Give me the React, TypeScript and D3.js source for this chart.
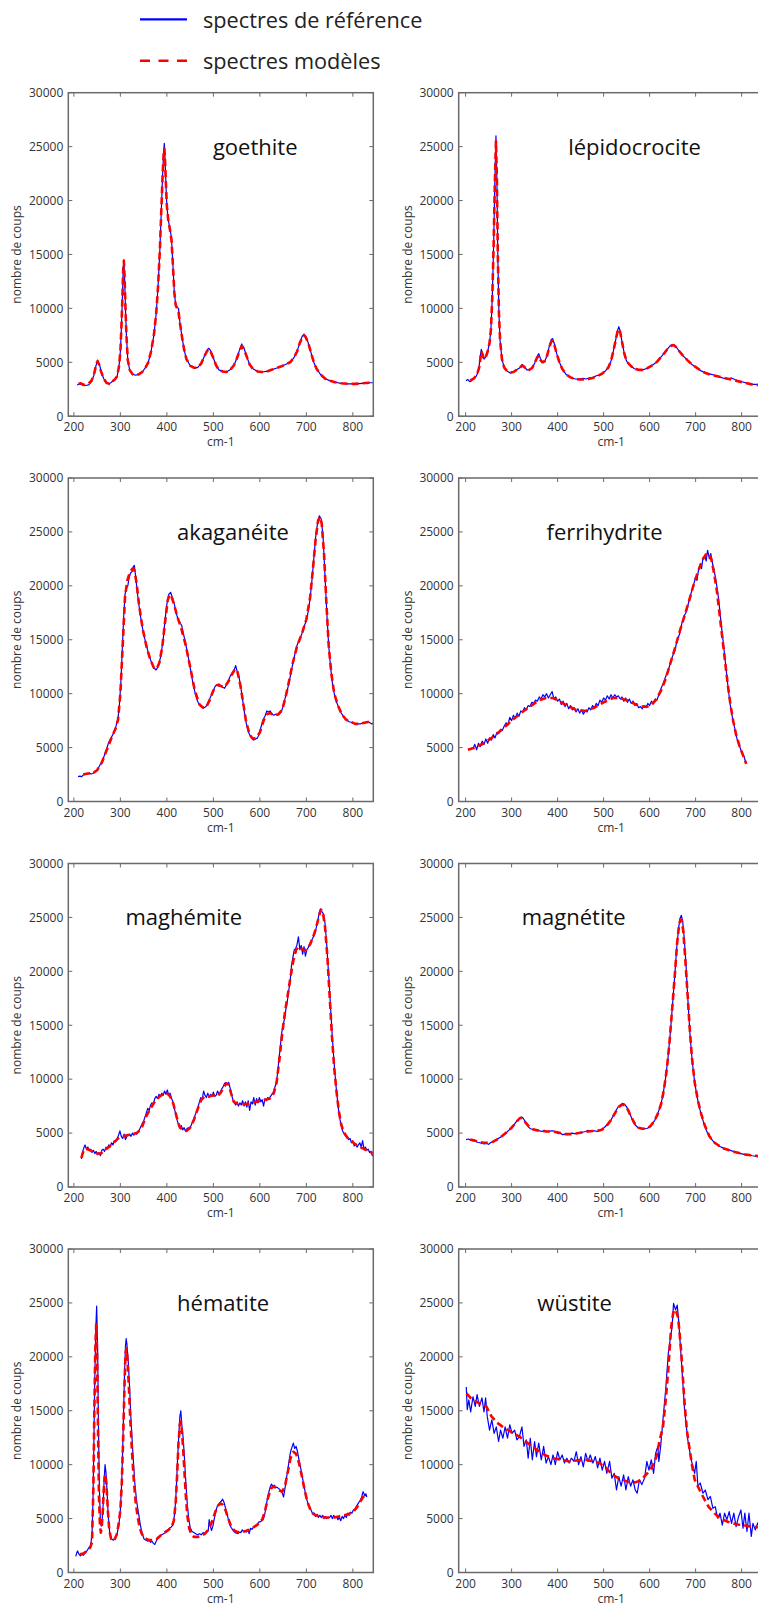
import React from 'react';
import * as d3 from 'd3';

type Pt = [number, number];

const panelNames = ['goethite', 'lépidocrocite', 'akaganéite', 'ferrihydrite', 'maghémite', 'magnétite', 'hématite', 'wüstite'];
const titleXs = [499, 423, 422, 376, 311, 322, 422, 356];
const xTicks = [200, 300, 400, 500, 600, 700, 800];
const yTicks = [0, 5000, 10000, 15000, 20000, 25000, 30000];
const legendLabels = ['spectres de référence', 'spectres modèles'];
const xLabel = 'cm-1';
const yLabel = 'nombre de coups';

const goethiteRef: Pt[] = [[207,2900],[212,3000],[218,2900],[225,2850],[232,2900],[238,3200],[243,3800],[247,4600],[251,5200],[255,4800],[259,4100],[264,3500],[270,3100],[276,3000],[282,3200],[288,3400],[293,3700],[297,4600],[300,6000],[302,8000],[304,10500],[306,13500],[307.5,14500],[309,13000],[311,10000],[313,7500],[316,5200],[320,4300],[326,3900],[333,3800],[340,3900],[347,4100],[354,4500],[360,5000],[366,6000],[372,7500],[377,9500],[381,12000],[385,15500],[388,19000],[391,22500],[393,24500],[394.5,25300],[396,24000],[398,21500],[400,19500],[403,18200],[407,17300],[410,16500],[413,14000],[416,11500],[419,10300],[422,10100],[425,10000],[428,8700],[432,7500],[437,6200],[442,5300],[450,4700],[458,4500],[466,4500],[474,4900],[480,5500],[486,6100],[490,6300],[494,6100],[500,5400],[506,4700],[512,4300],[520,4150],[528,4100],[536,4300],[544,4700],[550,5300],[556,6100],[561,6700],[566,6300],[572,5500],[578,4800],[585,4400],[595,4150],[605,4100],[615,4150],[625,4300],[635,4450],[645,4600],[655,4800],[665,5000],[673,5400],[680,6000],[686,6800],[691,7400],[695,7600],[699,7400],[704,6800],[710,5900],[716,5000],[722,4400],[730,3900],[740,3500],[750,3300],[762,3150],[775,3050],[790,3000],[805,3000],[820,3050],[835,3100],[845,3100]];
const goethiteModel: Pt[] = [[210,3000],[215,3050],[222,2900],[230,2950],[238,3300],[244,4000],[248,4800],[251,5100],[254,4800],[258,4200],[264,3500],[270,3100],[276,3000],[282,3200],[288,3400],[293,3700],[297,4600],[300,6000],[302,8000],[304,10500],[306,13500],[307.5,14400],[309,13000],[311,10000],[313,7500],[316,5200],[320,4300],[326,3900],[333,3800],[340,3900],[347,4100],[354,4500],[360,5000],[366,6000],[372,7500],[377,9500],[381,12000],[385,15500],[388,19000],[391,22500],[393,24200],[394.5,24800],[396,23800],[398,21500],[400,19500],[403,18200],[407,17200],[410,16300],[413,14000],[416,11500],[419,10300],[422,10000],[425,9700],[428,8700],[432,7500],[437,6200],[442,5300],[450,4700],[458,4500],[466,4500],[474,4900],[480,5500],[486,6000],[490,6200],[494,6000],[500,5400],[506,4700],[512,4300],[520,4150],[528,4100],[536,4300],[544,4700],[550,5300],[556,6000],[561,6500],[566,6200],[572,5500],[578,4800],[585,4400],[595,4150],[605,4100],[615,4150],[625,4300],[635,4450],[645,4600],[655,4800],[665,5000],[673,5400],[680,6000],[686,6800],[691,7300],[695,7500],[699,7300],[704,6800],[710,5900],[716,5000],[722,4400],[730,3900],[740,3500],[750,3300],[762,3150],[775,3050],[790,3000],[805,3000],[820,3050],[835,3100],[845,3100]];

const lepidoRef: Pt[] = [[201,3300],[205,3400],[209,3200],[213,3300],[218,3500],[223,3700],[228,4200],[231,5200],[234,6200],[237,5800],[240,5300],[244,5500],[248,6000],[252,6800],[255,8000],[258,11000],[261,16000],[263.5,21500],[266,26000],[268,22000],[270,15000],[272.5,9500],[275,7000],[279,5300],[284,4500],[290,4200],[297,4000],[304,4100],[311,4300],[318,4500],[323,4800],[328,4600],[333,4300],[339,4300],[345,4500],[350,4900],[355,5500],[359,5800],[363,5300],[367,5000],[372,5100],[377,5600],[382,6500],[386,7100],[389,7200],[393,6700],[398,5800],[404,5000],[410,4400],[418,3900],[428,3600],[438,3450],[448,3450],[455,3500],[462,3450],[470,3550],[478,3600],[484,3750],[490,3800],[497,4000],[504,4200],[510,4500],[516,5100],[521,6000],[526,7000],[530,7900],[533,8300],[536,7900],[540,6900],[545,5800],[550,5100],[558,4700],[567,4400],[576,4300],[585,4300],[595,4450],[605,4700],[615,5000],[625,5500],[633,5900],[640,6300],[646,6600],[652,6650],[658,6400],[665,6000],[673,5600],[682,5200],[692,4800],[702,4500],[712,4200],[722,4000],[732,3900],[742,3800],[752,3650],[762,3500],[770,3450],[778,3550],[785,3400],[795,3250],[805,3150],[815,3000],[825,2950],[835,2950],[848,2900]];
const lepidoModel: Pt[] = [[210,3300],[218,3500],[225,3900],[230,4600],[234,6000],[237,5700],[240,5300],[244,5500],[248,6000],[252,6800],[255,8000],[258,11000],[261,16000],[263.5,21500],[266,25500],[268,22000],[270,15000],[272.5,9500],[275,7000],[279,5300],[284,4500],[290,4200],[297,4050],[304,4100],[311,4300],[318,4500],[323,4700],[328,4550],[333,4300],[339,4300],[345,4500],[350,4900],[355,5400],[359,5600],[363,5200],[367,5000],[372,5100],[377,5600],[382,6400],[386,6900],[389,7000],[393,6600],[398,5800],[404,5000],[410,4400],[418,3900],[428,3600],[438,3450],[448,3400],[460,3400],[472,3500],[484,3650],[497,3950],[504,4200],[510,4500],[516,5100],[521,6000],[526,7000],[530,7800],[533,8100],[536,7800],[540,6900],[545,5800],[550,5100],[558,4700],[567,4400],[576,4300],[585,4300],[595,4450],[605,4700],[615,5000],[625,5500],[633,5900],[640,6300],[646,6500],[652,6600],[658,6400],[665,6000],[673,5600],[682,5200],[692,4800],[702,4500],[712,4200],[722,4000],[732,3850],[742,3750],[752,3650],[762,3550],[772,3450],[782,3350],[792,3250],[802,3150],[812,3050],[822,2950],[832,2900],[848,2850]];

const akaganeiteRef: Pt[] = [[209,2300],[213,2350],[217,2300],[221,2500],[225,2600],[229,2550],[233,2650],[237,2550],[241,2600],[246,2800],[250,2900],[255,3300],[260,3700],[265,4200],[270,4800],[275,5500],[280,5900],[285,6300],[290,6900],[295,7700],[298,9000],[301,11000],[304,14000],[307,17000],[310,19200],[313,19800],[316,20000],[319,20800],[322,21200],[325,21300],[328,21800],[330,21900],[333,20800],[337,19200],[342,17500],[348,16000],[354,14800],[360,13800],[366,13000],[372,12400],[377,12200],[382,12600],[387,13500],[392,15000],[396,16800],[400,18300],[404,19200],[408,19400],[412,18900],[416,18300],[420,17500],[424,16900],[428,16600],[432,16300],[436,15500],[441,14500],[446,13400],[451,12200],[456,11000],[461,10000],[466,9300],[471,8900],[476,8800],[481,8700],[486,8900],[491,9400],[496,9900],[500,10300],[504,10700],[508,10800],[512,10900],[516,10700],[520,10600],[524,10500],[528,10800],[532,11200],[536,11600],[540,11900],[544,12100],[548,12600],[551,12100],[555,11600],[559,10600],[563,9400],[567,8200],[571,7200],[575,6500],[579,6100],[583,5900],[587,5700],[591,5800],[595,5900],[599,6300],[603,7000],[607,7600],[611,7900],[615,8400],[619,8300],[622,8400],[626,8100],[630,8000],[634,8100],[638,8000],[642,8100],[646,8300],[650,8800],[655,9700],[660,10500],[665,11500],[670,12600],[675,13600],[680,14500],[685,15000],[690,15500],[695,16200],[700,16800],[704,17600],[708,18800],[712,20500],[716,22500],[720,24500],[724,25800],[728,26500],[732,26200],[736,24500],[740,21000],[744,17500],[748,14500],[752,12500],[756,11000],[760,10000],[765,9200],[770,8700],[775,8200],[780,7900],[786,7600],[792,7400],[800,7300],[808,7200],[816,7200],[824,7300],[830,7400],[835,7350],[840,7200],[845,7250]];
const akaganeiteModel: Pt[] = [[220,2500],[230,2600],[240,2600],[250,2900],[260,3600],[270,4700],[280,5800],[290,6800],[295,7600],[300,10000],[305,14500],[310,19000],[315,20500],[320,21200],[326,21600],[330,21500],[335,20200],[340,18300],[348,16000],[356,14400],[364,13200],[372,12400],[378,12300],[384,12900],[390,14300],[396,16600],[402,18700],[406,19200],[410,19000],[416,18200],[422,17200],[430,16200],[440,14600],[450,12500],[460,10300],[470,9000],[478,8700],[485,8800],[492,9400],[500,10300],[508,10800],[516,10700],[524,10600],[532,11100],[540,11800],[547,12300],[552,12000],[558,10800],[564,9200],[570,7500],[578,6200],[585,5800],[592,5900],[600,6400],[608,7500],[615,8100],[622,8200],[630,8000],[640,8100],[648,8500],[655,9600],[662,11000],[670,12700],[680,14400],[690,15500],[700,16900],[708,18900],[714,21500],[720,24300],[725,26000],[729,26400],[733,25800],[738,23000],[743,18500],[748,14500],[754,11800],[760,10000],[768,8900],[776,8100],[785,7600],[795,7400],[805,7200],[815,7200],[825,7300],[835,7400],[845,7300]];

const ferriRef: Pt[] = [[216,4900],[220,5300],[224,4800],[228,5400],[232,5100],[236,5600],[240,5300],[244,5800],[248,5400],[252,5900],[256,5700],[260,6200],[264,5900],[268,6400],[272,6300],[276,6700],[280,6600],[284,7000],[288,7300],[292,7100],[296,7800],[300,7500],[304,8000],[308,7700],[312,8200],[316,7900],[320,8400],[324,8300],[328,8700],[332,8500],[336,8900],[340,8800],[344,9200],[348,9100],[352,9400],[356,9300],[360,9700],[364,9500],[368,9900],[372,9700],[376,10000],[380,9600],[384,9900],[388,10200],[392,9500],[396,9700],[400,9300],[404,9500],[408,9000],[412,9300],[416,8800],[420,9100],[424,8600],[428,8900],[432,8500],[436,8700],[440,8300],[444,8600],[448,8200],[452,8500],[456,8100],[460,8400],[464,8300],[468,8700],[472,8500],[476,8900],[480,8700],[484,9100],[488,8900],[492,9400],[496,9200],[500,9600],[504,9400],[508,9800],[512,9500],[516,9900],[520,9600],[524,9900],[528,9700],[532,9800],[536,9500],[540,9700],[544,9300],[548,9600],[552,9200],[556,9500],[560,9100],[564,9300],[568,8900],[572,9100],[576,8700],[580,8800],[584,8600],[588,8900],[592,8700],[596,9100],[600,8900],[604,9300],[608,9100],[612,9500],[616,9400],[620,9900],[625,10500],[630,11000],[635,11600],[640,12100],[645,12800],[650,13500],[655,14000],[660,15000],[665,15500],[670,16500],[675,17200],[680,17600],[685,18500],[690,19300],[695,20000],[700,20800],[703,20500],[706,21400],[710,22000],[713,21600],[716,22600],[720,22800],[723,22300],[726,23300],[730,22500],[733,23000],[737,22000],[740,21500],[745,20300],[750,18800],[755,16700],[760,14800],[765,12800],[770,10800],[775,9000],[780,7800],[785,6800],[790,5800],[795,5200],[800,4600],[805,4200],[810,3500]];
const ferriModel: Pt[] = [[205,4800],[220,5000],[240,5400],[260,6000],[280,6700],[300,7500],[320,8200],[340,8800],[360,9400],[375,9600],[390,9600],[400,9400],[420,8900],[440,8500],[460,8400],[480,8700],[500,9200],[520,9600],[535,9600],[550,9400],[565,9100],[580,8800],[595,8800],[605,9000],[615,9500],[625,10300],[635,11400],[645,12800],[655,14200],[665,15700],[675,17100],[685,18500],[695,20000],[705,21300],[715,22400],[722,22900],[728,23000],[734,22500],[740,21200],[746,19600],[752,17400],[758,15200],[764,13000],[770,10800],[776,8900],[782,7400],[788,6200],[795,5200],[802,4400],[810,3500]];

const maghemiteRef: Pt[] = [[216,2600],[219,3300],[222,3700],[224,3900],[227,3500],[230,3700],[233,3400],[236,3500],[239,3200],[242,3400],[245,3100],[248,3300],[251,3000],[254,3200],[257,2900],[260,3400],[263,3500],[266,3300],[269,3700],[272,3600],[275,3900],[278,3700],[281,4100],[284,3900],[287,4300],[290,4200],[293,4500],[296,4800],[299,5200],[302,4700],[305,4500],[308,4900],[311,4400],[314,4700],[317,4800],[320,4900],[323,4700],[326,5000],[329,4800],[332,5000],[335,4900],[338,5100],[341,5300],[344,5600],[347,5900],[350,6100],[353,6500],[356,6900],[359,7300],[362,7100],[365,7600],[368,7800],[371,7700],[374,8200],[377,8400],[380,8200],[383,8600],[386,8400],[389,8700],[392,8500],[395,8900],[398,8600],[401,9000],[404,8500],[407,8700],[410,8200],[413,7900],[416,7300],[419,6800],[422,6200],[425,5800],[428,5500],[431,5700],[434,5300],[437,5500],[440,5200],[443,5400],[446,5500],[449,5400],[452,5700],[455,6000],[458,6300],[461,6700],[464,7000],[467,7400],[470,7900],[473,8300],[476,8100],[479,8900],[482,8500],[485,8300],[488,8700],[491,8300],[494,8600],[497,8400],[500,8800],[503,8400],[506,8500],[509,8900],[512,8600],[515,8800],[518,9100],[521,9300],[524,9600],[527,9700],[530,9500],[533,9700],[536,9200],[539,8600],[542,8100],[545,7800],[548,7600],[551,7900],[554,7500],[557,7800],[560,7600],[563,8000],[566,7500],[569,7900],[572,7400],[575,8000],[578,7100],[581,7900],[584,7700],[587,8300],[590,7600],[593,8200],[596,7800],[599,8300],[602,7900],[605,8100],[608,7500],[611,8200],[614,8000],[617,8300],[620,8200],[623,8400],[626,8600],[629,8800],[632,9200],[635,9600],[638,10500],[641,11800],[644,13000],[647,14300],[650,15000],[653,15600],[656,16500],[659,17200],[662,18200],[665,19000],[668,20500],[671,21300],[674,22000],[677,22100],[680,22500],[683,23200],[686,22000],[689,22400],[692,21600],[695,22300],[698,21400],[701,22000],[704,22200],[707,22500],[710,22800],[713,23000],[716,23300],[719,23600],[722,24200],[725,24800],[728,25500],[731,25800],[734,25500],[737,25300],[740,24500],[743,23000],[746,21000],[749,19000],[752,16700],[755,14500],[758,12500],[761,10800],[764,9300],[767,8000],[770,6900],[773,6100],[776,5500],[779,5100],[782,4900],[785,4700],[788,4600],[791,4400],[794,4500],[797,4100],[800,4300],[803,3800],[806,4000],[809,3700],[812,3900],[815,4100],[818,3700],[821,4300],[824,3500],[827,3700],[830,3400],[833,3500],[836,3200],[839,3300],[842,2900],[845,3000]];
const maghemiteModel: Pt[] = [[216,2700],[222,3500],[230,3500],[240,3300],[250,3100],[258,3100],[265,3400],[275,3700],[285,4100],[295,4500],[305,4700],[315,4800],[325,4900],[335,5000],[345,5400],[355,6500],[365,7300],[375,8000],[385,8400],[395,8700],[400,8700],[407,8400],[414,7700],[421,6500],[428,5500],[435,5300],[442,5200],[450,5500],[458,6200],[466,7200],[474,8100],[482,8400],[490,8400],[500,8500],[508,8400],[515,8700],[522,9200],[528,9600],[533,9500],[538,8700],[544,7900],[552,7700],[562,7700],[572,7700],[582,7800],[592,7900],[602,8000],[612,8100],[622,8200],[630,8700],[636,9700],[642,11800],[648,14200],[654,16200],[660,17800],[666,19500],[672,21000],[678,22000],[684,22300],[690,22100],[696,21900],[702,22100],[708,22500],[714,23100],[720,23900],[726,24900],[731,25700],[735,25600],[740,24200],[745,21500],[750,17800],[755,14000],[760,11000],[765,8800],[770,7000],[775,5800],[780,5100],[788,4600],[796,4300],[804,4000],[812,3800],[820,3600],[830,3400],[840,3200],[845,3100]];

const magnetiteRef: Pt[] = [[201,4400],[206,4450],[211,4350],[216,4300],[221,4250],[226,4150],[231,4100],[236,4050],[241,4000],[246,4050],[250,3950],[254,4100],[259,4200],[265,4350],[271,4500],[277,4650],[283,4850],[289,5050],[295,5300],[301,5550],[306,5800],[311,6100],[316,6350],[321,6500],[325,6400],[329,6100],[333,5850],[337,5550],[341,5400],[346,5350],[351,5250],[356,5300],[361,5200],[366,5150],[371,5250],[376,5150],[381,5150],[386,5200],[391,5200],[396,5100],[401,4950],[406,5000],[411,4850],[416,4900],[421,4850],[426,4900],[431,5000],[436,4950],[441,4950],[446,5050],[451,5050],[456,5100],[461,5150],[466,5250],[471,5150],[476,5200],[481,5200],[486,5150],[491,5250],[496,5350],[501,5500],[506,5700],[511,5950],[516,6200],[521,6600],[526,7000],[531,7400],[536,7600],[541,7750],[545,7700],[549,7500],[553,7200],[557,6800],[561,6400],[565,6000],[570,5700],[575,5500],[580,5400],[585,5400],[590,5400],[595,5450],[600,5550],[605,5800],[610,6100],[615,6500],[620,7100],[625,7700],[630,8800],[635,10200],[640,12000],[645,14300],[650,17000],[655,19800],[659,22200],[663,24000],[666,24900],[669,25200],[672,24600],[675,23200],[679,20700],[683,17500],[688,14000],[693,11500],[698,9700],[703,8400],[708,7400],[713,6600],[718,5900],[723,5300],[728,4800],[733,4500],[738,4250],[743,4050],[748,3900],[753,3750],[758,3650],[763,3550],[768,3500],[773,3450],[778,3350],[783,3300],[788,3200],[793,3150],[798,3100],[803,3050],[808,3000],[813,2950],[818,2950],[823,2900],[830,2850],[840,2800],[848,2750]];
const magnetiteModel: Pt[] = [[210,4400],[220,4300],[230,4150],[240,4100],[250,4100],[260,4200],[270,4450],[280,4750],[290,5100],[300,5500],[310,6000],[318,6400],[324,6400],[330,6000],[338,5600],[346,5350],[356,5250],[366,5200],[376,5150],[386,5150],[396,5100],[406,5000],[416,4900],[426,4900],[436,4950],[446,5000],[456,5100],[466,5150],[476,5200],[486,5200],[496,5300],[506,5650],[516,6200],[526,6950],[534,7450],[541,7650],[547,7550],[553,7150],[560,6500],[568,5850],[576,5500],[585,5400],[594,5450],[602,5650],[610,6100],[618,6800],[625,7700],[631,9000],[637,10800],[643,13300],[649,16500],[655,19800],[660,22700],[664,24300],[667,24800],[670,24700],[673,23800],[677,21500],[682,18200],[687,14800],[692,12000],[698,9700],[705,8000],[712,6800],[720,5700],[730,4700],[740,4150],[750,3850],[760,3600],[770,3450],[780,3300],[790,3200],[800,3100],[810,3000],[820,2950],[830,2900],[848,2800]];

const hematiteRef: Pt[] = [[204,1500],[206,1800],[208,2000],[211,1700],[214,1550],[217,1700],[220,1600],[224,1800],[228,2000],[232,2300],[236,2500],[239,3500],[241,6500],[243,12000],[245,18000],[247,22500],[249,24700],[251,21000],[253,13000],[255,7500],[257,4800],[259,4300],[261,5000],[263,6300],[265,8500],[267,10000],[269,9300],[271,7800],[274,5200],[277,3700],[281,3100],[285,3000],[289,3200],[293,3600],[297,4500],[300,5800],[303,8500],[305,11500],[307,15000],[309,18500],[311,21000],[312.5,21700],[314,21200],[317,19500],[320,17000],[323,14000],[327,11000],[331,8300],[335,6600],[339,5500],[343,4400],[347,3600],[351,3100],[355,3000],[359,2900],[362,3000],[365,2800],[368,2900],[371,2700],[374,2600],[377,2900],[381,3200],[385,3400],[389,3500],[393,3600],[397,3700],[401,3800],[405,4100],[409,4200],[413,4400],[417,5500],[420,7500],[423,10500],[426,13000],[428,14500],[430,15000],[432,13800],[435,12500],[438,10500],[441,8200],[444,6300],[447,5000],[450,4200],[454,3800],[458,3700],[462,3600],[466,3500],[470,3600],[474,3500],[478,3700],[482,3600],[486,3800],[489,3900],[491,4900],[493,4400],[496,3900],[499,4300],[502,5000],[505,5600],[508,6100],[511,6300],[514,6500],[517,6600],[520,6800],[523,6500],[526,6000],[529,5500],[532,5000],[535,4500],[538,4200],[541,4000],[544,3800],[547,3700],[550,3650],[553,3600],[556,3750],[559,3700],[562,3950],[565,3800],[568,3900],[571,3750],[574,4000],[577,3600],[580,4100],[583,4000],[586,4200],[589,4300],[592,4300],[595,4500],[598,4700],[601,4700],[604,4800],[607,4900],[610,5300],[613,6000],[616,6800],[619,7400],[622,7900],[625,8200],[628,8000],[631,8100],[634,7900],[637,7900],[640,7800],[643,7700],[646,7500],[649,7300],[651,7000],[654,7800],[657,8700],[660,9500],[663,10400],[666,11200],[669,11600],[672,12000],[675,11500],[678,11700],[681,11200],[684,10500],[687,9900],[690,9200],[693,8500],[696,7800],[699,7100],[702,6600],[705,6200],[708,6000],[711,5700],[714,5400],[717,5500],[720,5200],[723,5400],[726,5100],[729,5300],[732,5100],[735,5300],[738,5000],[741,5200],[744,5000],[747,5100],[750,5100],[753,5300],[756,5000],[759,5300],[762,5100],[765,5200],[768,4900],[771,5100],[774,4800],[777,5200],[780,5000],[783,5300],[786,5100],[789,5500],[792,5300],[795,5600],[798,5500],[801,5800],[804,5800],[807,6100],[810,6300],[813,6500],[816,6700],[819,7000],[822,7500],[824,7300],[826,7100],[828,7300],[830,7000]];
const hematiteModel: Pt[] = [[213,1700],[220,1750],[228,2000],[235,2300],[239,2800],[242,8000],[244,15000],[246,20500],[248,23000],[250,20000],[252,13000],[254,7000],[256,4500],[258,3700],[260,4300],[262,5500],[264,7500],[266,8800],[268,9100],[270,8200],[273,5800],[276,4000],[280,3100],[284,2950],[288,3100],[292,3500],[296,4400],[300,5800],[303,8200],[306,12500],[309,17500],[311,20300],[313,20800],[315,20000],[318,17500],[321,14500],[325,11200],[329,8500],[333,6500],[337,5200],[341,4300],[345,3700],[350,3300],[356,3100],[362,3000],[370,3000],[378,3100],[386,3400],[394,3700],[402,3900],[410,4200],[415,4800],[419,6500],[422,9000],[425,12000],[428,13800],[430,14000],[432,13300],[435,11500],[438,9200],[441,7000],[444,5300],[448,4100],[453,3500],[458,3300],[466,3300],[474,3400],[482,3600],[490,4000],[497,4700],[504,5600],[510,6200],[515,6400],[520,6300],[526,5800],[532,5000],[538,4300],[545,3900],[552,3750],[560,3750],[570,3850],[580,4000],[590,4300],[600,4600],[606,5000],[612,5900],[618,7000],[624,7800],[630,8000],[636,7800],[642,7600],[648,7500],[654,8000],[660,9300],[666,10600],[672,11200],[678,11000],[684,10200],[690,9000],[696,7700],[702,6600],[708,5900],[714,5500],[720,5300],[730,5200],[740,5100],[750,5100],[760,5100],[770,5200],[780,5300],[790,5400],[800,5600],[808,6000],[815,6500],[822,7000],[830,7200]];

const wustiteRef: Pt[] = [[201.5,17200],[203.6,15100],[207,16000],[211,14900],[216,16300],[221,15400],[225,16500],[230,15400],[235.5,16200],[240,14900],[243.5,16200],[247,14500],[252,13200],[257,14150],[262,12900],[266.7,13500],[271.7,12150],[276,13200],[281,12450],[286,13500],[291,12450],[296,13700],[301,12900],[306.5,13200],[311.6,12300],[317,12600],[322.4,13500],[327,11700],[332,12300],[336,10600],[340.6,12450],[345,10450],[350,12150],[354,10750],[359,12000],[364.5,10450],[369.6,11700],[375,10150],[380,10750],[385.5,10000],[390,10900],[395,10000],[400,11200],[405,10450],[410,10900],[415,10150],[420,10600],[425,10150],[430,10600],[435.5,10300],[440.6,11200],[445.6,10000],[450.7,10750],[455.8,9800],[461,11050],[466,10300],[471,10900],[476.8,10150],[482,10750],[487,9700],[492,10600],[497,9500],[502,10300],[507,9200],[513,10300],[518,8750],[523,9200],[528,7650],[533,8900],[538,8000],[543.5,9050],[548.5,7650],[553.6,8900],[558.7,8000],[563.8,8600],[568.8,7650],[573,7350],[578,8600],[583,8150],[589,8750],[594,10300],[598.5,9500],[603.6,10450],[608.7,9200],[613,11050],[618,11700],[620,10300],[624,11700],[629,14150],[634.8,16900],[640.6,20300],[645,21700],[649,22800],[652,24950],[656.5,24350],[660,24800],[663,23400],[669,19700],[676,15100],[683,12300],[690.5,10450],[697.8,9200],[701.4,10300],[705,8000],[710,8300],[716,7350],[721,7650],[726.8,6750],[732,7050],[737.6,5950],[742.7,6100],[747.8,5050],[753,5500],[758,4400],[763,5500],[768,4900],[773,5650],[778,4550],[783,5500],[788,4250],[793.5,5200],[798.5,5800],[803,4100],[807,5500],[811.6,3800],[816,5500],[821,3350],[824.6,4550],[829.7,3950],[835,4600],[840,3900],[848,4300]];
const wustiteModel: Pt[] = [[202,16600],[215,16000],[230,15700],[245,15400],[256,14500],[268,13900],[281,13500],[300,13000],[317,12600],[335,12000],[354,11400],[372,10900],[390,10600],[408,10450],[426,10300],[444,10400],[462,10450],[478,10300],[491,10150],[505,9700],[520,9050],[532,8750],[542,8600],[553,8400],[564,8300],[575,8450],[585,8750],[595,9200],[604,9700],[610,10200],[615,10750],[622,12300],[629,13500],[635,16000],[640,18500],[644,21000],[647,22800],[651,24000],[654,24400],[658,24200],[661.6,23700],[665,22300],[669,20300],[672,18300],[676,15700],[681,13200],[687,11400],[692,10000],[698,8600],[708.7,7650],[719.5,6750],[728,6100],[737.6,5650],[748,5200],[759,4900],[770,4700],[781,4550],[792,4450],[803,4400],[814,4300],[824.6,4250],[835,4200],[848,4150]];

const refSeries = [goethiteRef, lepidoRef, akaganeiteRef, ferriRef, maghemiteRef, magnetiteRef, hematiteRef, wustiteRef];
const modelSeries = [goethiteModel, lepidoModel, akaganeiteModel, ferriModel, maghemiteModel, magnetiteModel, hematiteModel, wustiteModel];

const COLS = [
  { left: 68.3, right: 373.3, d0: 188, d1: 844 },
  { left: 458.7, right: 763.7, d0: 185, d1: 848 },
];
const ROW_TOPS = [92.7, 478, 863.5, 1249];
const PLOT_H = 323.5;
const FONT = "'Open Sans', 'DejaVu Sans', sans-serif";
const AXIS_COLOR = '#6a6a6a';
const TEXT_COLOR = '#333333';

function Panel({ idx }: { idx: number }) {
  const col = COLS[idx % 2];
  const top = ROW_TOPS[Math.floor(idx / 2)];
  const bottom = top + PLOT_H;
  const x = d3.scaleLinear().domain([col.d0, col.d1]).range([col.left, col.right]);
  const y = d3.scaleLinear().domain([0, 30000]).range([bottom, top]);
  const line = d3.line<Pt>().x((d) => x(d[0])).y((d) => y(d[1]));
  const clipId = `clip-${idx}`;
  const tickLen = 4;
  return (
    <g>
      <defs>
        <clipPath id={clipId}>
          <rect x={col.left} y={top} width={col.right - col.left} height={PLOT_H} />
        </clipPath>
      </defs>
      <g clipPath={`url(#${clipId})`}>
        <path d={line(refSeries[idx]) || ''} fill="none" stroke="#0000ff" strokeWidth={1.2} strokeLinejoin="round" />
        <path d={line(modelSeries[idx]) || ''} fill="none" stroke="#ff0000" strokeWidth={2.6} strokeDasharray="7,4" strokeLinejoin="round" />
      </g>
      <text x={x(titleXs[idx])} y={y(25000) + 8} fontFamily={FONT} fontSize={22} fill="#111">
        {panelNames[idx]}
      </text>
      {xTicks.map((t) => (
        <g key={`x${t}`}>
          <line x1={x(t)} x2={x(t)} y1={bottom} y2={bottom - tickLen} stroke={AXIS_COLOR} strokeWidth={1} />
          <line x1={x(t)} x2={x(t)} y1={top} y2={top + tickLen} stroke={AXIS_COLOR} strokeWidth={1} />
          <text x={x(t)} y={bottom + 15} textAnchor="middle" fontFamily={FONT} fontSize={12} fill={TEXT_COLOR}>
            {t}
          </text>
        </g>
      ))}
      {yTicks.map((t) => (
        <g key={`y${t}`}>
          <line x1={col.left} x2={col.left + tickLen} y1={y(t)} y2={y(t)} stroke={AXIS_COLOR} strokeWidth={1} />
          <line x1={col.right} x2={col.right - tickLen} y1={y(t)} y2={y(t)} stroke={AXIS_COLOR} strokeWidth={1} />
          <text x={col.left - 5} y={y(t) + 4.3} textAnchor="end" fontFamily={FONT} fontSize={12} fill={TEXT_COLOR}>
            {t}
          </text>
        </g>
      ))}
      <rect x={col.left} y={top} width={col.right - col.left} height={PLOT_H} fill="none" stroke={AXIS_COLOR} strokeWidth={1.5} />
      <text x={(col.left + col.right) / 2} y={bottom + 30} textAnchor="middle" fontFamily={FONT} fontSize={12} fill={TEXT_COLOR}>
        {xLabel}
      </text>
      <text
        transform={`translate(${col.left - 47},${(top + bottom) / 2}) rotate(-90)`}
        textAnchor="middle"
        fontFamily={FONT}
        fontSize={12}
        fill={TEXT_COLOR}
      >
        {yLabel}
      </text>
    </g>
  );
}

export default function App() {
  return (
    <div style={{ position: 'absolute', left: 0, top: 0, width: 758, height: 1606, overflow: 'hidden', background: '#fff' }}>
      <svg width={758} height={1606} style={{ display: 'block' }}>
        <rect x={0} y={0} width={758} height={1606} fill="#fff" />
        <line x1={140} x2={187} y1={19.3} y2={19.3} stroke="#0000ff" strokeWidth={2.2} />
        <text x={203} y={27.5} fontFamily={FONT} fontSize={21.7} fill="#222">{legendLabels[0]}</text>
        <line x1={140} x2={187} y1={60.7} y2={60.7} stroke="#ff0000" strokeWidth={2.4} strokeDasharray="10,8.5" />
        <text x={203} y={68.5} fontFamily={FONT} fontSize={21.7} fill="#222">{legendLabels[1]}</text>
        {panelNames.map((_, i) => (
          <Panel key={i} idx={i} />
        ))}
      </svg>
    </div>
  );
}
